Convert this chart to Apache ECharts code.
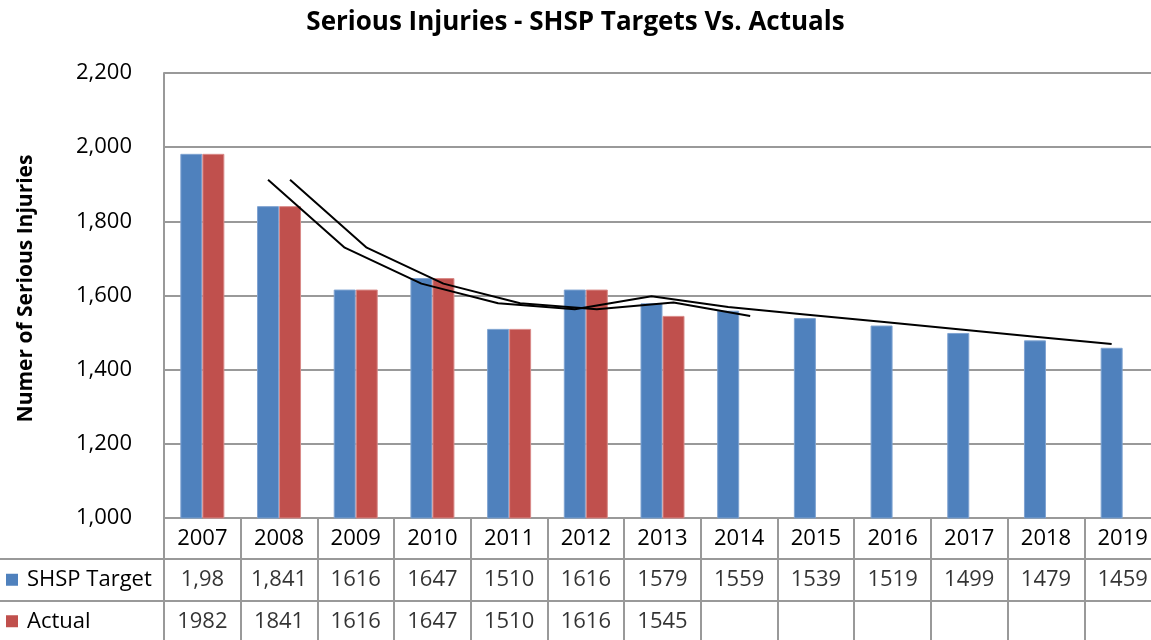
<!DOCTYPE html>
<html>
<head>
<meta charset="utf-8">
<script src="https://cdn.jsdelivr.net/npm/echarts@6/dist/echarts.min.js"></script>
<style>html,body{margin:0;padding:0;background:#fff;}#c{width:1151px;height:640px;}</style>
</head>
<body>
<div id="c"></div>
<script>
var years = ['2007','2008','2009','2010','2011','2012','2013','2014','2015','2016','2017','2018','2019'];
var targetValues = [1982,1841,1616,1647,1510,1616,1579,1559,1539,1519,1499,1479,1459];
var actualValues = [1982,1841,1616,1647,1510,1616,1545];
var targetTableLabels = ['1,98','1,841','1616','1647','1510','1616','1579','1559','1539','1519','1499','1479','1459'];
var actualTableLabels = ['1982','1841','1616','1647','1510','1616','1545'];
var targetTrend = [null,1912,1729,1632,1579,1563,1598,1569,1549,1529,1509,1489,1469];
var actualTrend = [null,1912,1729,1632,1579,1563,1581,1545];
var yTicks = {min:1000, max:2200, interval:200};

var FONT = 'Open Sans';
var GRID_LEFT = 164, GRID_W = 997, BAR_W = 22;
var catW = GRID_W / years.length;
var off = (BAR_W / 2) / catW;
var gridColor = '#999999';

function trendData(arr, shift){
  var out = [];
  arr.forEach(function(v,i){ if(v!=null) out.push([i+shift, v]); });
  return out;
}
var cells = [];
targetTableLabels.forEach(function(t,i){ cells.push([i,0,t]); });
actualTableLabels.forEach(function(t,i){ cells.push([i,1,t]); });

var chart = echarts.init(document.getElementById('c'));
chart.setOption({
  animation:false,
  backgroundColor:'#fff',
  textStyle:{fontFamily:FONT},
  title:{text:'Serious Injuries - SHSP Targets Vs. Actuals', left:'center', top:5,
    textStyle:{fontFamily:FONT, fontSize:26, fontWeight:'bold', color:'#000'}},
  grid:[
    {left:GRID_LEFT, top:73, width:GRID_W, height:445, outerBoundsMode:'none', containLabel:false},
    {left:GRID_LEFT, top:559, width:GRID_W, height:83, outerBoundsMode:'none', containLabel:false}
  ],
  xAxis:[
    {type:'category', gridIndex:0, data:years,
      axisLine:{show:true, lineStyle:{color:gridColor, width:2}},
      axisTick:{show:true, interval:0, inside:false, length:41, lineStyle:{color:gridColor, width:2}},
      axisLabel:{show:true, interval:0, margin:0, lineHeight:41, color:'#000', fontSize:22, fontFamily:FONT},
      splitLine:{show:false}},
    {type:'value', gridIndex:0, min:-0.5, max:years.length-0.5, show:false},
    {type:'category', gridIndex:1, data:years,
      axisLine:{show:false}, axisTick:{show:false}, axisLabel:{show:false},
      splitLine:{show:true, interval:0, lineStyle:{color:gridColor, width:2}}}
  ],
  yAxis:[
    {type:'value', gridIndex:0, min:yTicks.min, max:yTicks.max, interval:yTicks.interval,
      name:'Numer of Serious Injuries', nameLocation:'middle', nameGap:127,
      nameTextStyle:{fontFamily:FONT, fontSize:21, fontWeight:'bold', color:'#000', padding:[0,0,0,14]},
      axisLine:{show:true, onZero:false, lineStyle:{color:gridColor, width:2}},
      axisTick:{show:false},
      axisLabel:{color:'#000', fontSize:22, fontFamily:FONT, margin:32},
      splitLine:{show:true, lineStyle:{color:gridColor, width:2}}},
    {type:'category', gridIndex:1, data:['SHSP Target','Actual'], inverse:true,
      axisLine:{show:true, onZero:false, lineStyle:{color:gridColor, width:2}},
      axisTick:{show:true, interval:0, length:164, lineStyle:{color:gridColor, width:2}},
      axisLabel:{align:'left', margin:158, interval:0,
        formatter:function(v){ return (v==='Actual' ? '{r|}' : '{b|}') + '{t|' + v + '}'; },
        rich:{
          b:{width:12, height:12, backgroundColor:'#4F81BD'},
          r:{width:12, height:12, backgroundColor:'#C0504D'},
          t:{fontSize:22, fontFamily:FONT, color:'#000', padding:[0,0,0,9]}
        }},
      splitLine:{show:true, interval:0, lineStyle:{color:gridColor, width:2}}}
  ],
  series:[
    {name:'SHSP Target', type:'bar', xAxisIndex:0, yAxisIndex:0, data:targetValues,
      barWidth:BAR_W, barGap:'0%', itemStyle:{color:'#4F81BD', borderColor:'#7FA3D1', borderWidth:1}},
    {name:'Actual', type:'bar', xAxisIndex:0, yAxisIndex:0, data:actualValues,
      barWidth:BAR_W, barGap:'0%', itemStyle:{color:'#C0504D', borderColor:'#D98A88', borderWidth:1}},
    {name:'Target trend', type:'line', xAxisIndex:1, yAxisIndex:0, data:trendData(targetTrend,-off),
      symbol:'none', lineStyle:{color:'#000', width:2}, z:5},
    {name:'Actual trend', type:'line', xAxisIndex:1, yAxisIndex:0, data:trendData(actualTrend,off),
      symbol:'none', lineStyle:{color:'#000', width:2}, z:5},
    {name:'table', type:'scatter', xAxisIndex:2, yAxisIndex:1, data:cells,
      symbolSize:1, itemStyle:{color:'rgba(0,0,0,0)'}, silent:true,
      label:{show:true, position:'inside', color:'#000', fontSize:22, fontFamily:FONT,
        formatter:function(p){ return p.value[2]; }}}
  ]
});
</script>
</body>
</html>
